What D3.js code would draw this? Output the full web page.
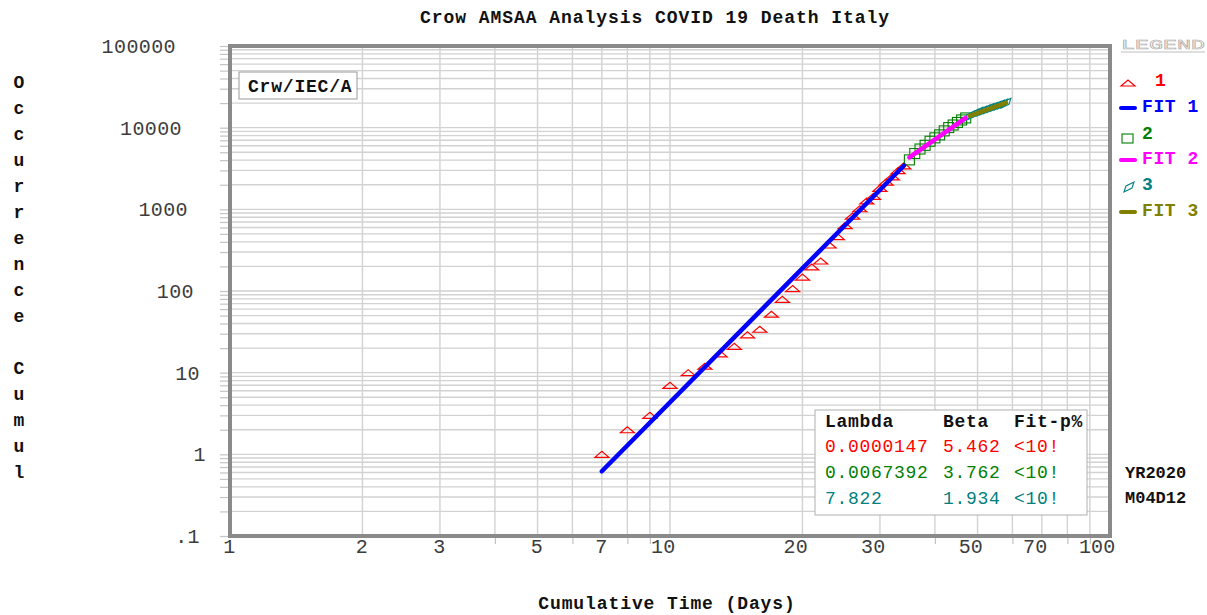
<!DOCTYPE html>
<html>
<head>
<meta charset="utf-8">
<script src="https://cdn.jsdelivr.net/npm/d3@7/dist/d3.min.js"></script>
<style>
  html, body { margin: 0; padding: 0; background: #fff; }
  svg { display: block; }
  text { font-family: "Liberation Mono", "DejaVu Sans Mono", monospace; }
</style>
</head>
<body>
<svg id="chart" width="1207" height="615"></svg>
<script>
// ---------- data ----------
const title = "Crow AMSAA Analysis COVID 19 Death Italy";
const xTitle = "Cumulative Time (Days)";
const yTitle = "Occurrence Cumul";

const xTickValues = [1, 2, 3, 5, 7, 10, 20, 30, 50, 70, 100];
const xTickLabels = ["1", "2", "3", "5", "7", "10", "20", "30", "50", "70", "100"];
const xMinorTicks = [4, 6, 8, 9, 40, 60, 80, 90];
const yTickValues = [0.1, 1, 10, 100, 1000, 10000, 100000];
const yTickLabels = [".1", "1", "10", "100", "1000", "10000", "100000"];

// series 1 (triangles): days 7..34
const s1Time = [7,8,9,10,11,12,13,14,15,16,17,18,19,20,21,22,23,24,25,26,27,28,29,30,31,32,33,34];
const s1Value = [1,2,3,7,10,12,17,21,29,34,52,79,107,148,197,233,366,463,631,827,1016,1266,1441,1809,2158,2503,2978,3405];
// series 2 (squares): days 35..47
const s2Time = [35,36,37,38,39,40,41,42,43,44,45,46,47];
const s2Value = [4032,4825,5476,6077,6820,7503,8165,9134,10023,10779,11591,12428,13155];
// series 3 (parallelograms): days 48..58
const s3Time = [48,49,50,51,52,53,54,55,56,57,58];
const s3Value = [13915,14681,15362,15887,16523,17127,17669,18279,18849,19468,19899];

// fit lines (end points)
const fit1 = [[7, 0.62], [34, 3420]];
const fit2 = [[35, 4330], [47, 13150]];
const fit3 = [[48, 13960], [58, 20130]];

const statHeader = ["Lambda", "Beta", "Fit-p%"];
const statLambda = ["0.0000147", "0.0067392", "7.822"];
const statBeta = ["5.462", "3.762", "1.934"];
const statFit = ["<10!", "<10!", "<10!"];

const legendLabels = ["1", "FIT 1", "2", "FIT 2", "3", "FIT 3"];

// ---------- styles ----------
const C_RED = "#ff0000", C_BLUE = "#0000ff", C_GREEN = "#008000",
      C_MAG = "#ff00ff", C_TEAL = "#008080", C_OLIVE = "#808000";
const statColors = [C_RED, C_GREEN, C_TEAL];

const svg = d3.select("#chart");
const L = 230, R = 1110, T = 46, B = 536;
const x = d3.scaleLog().domain([1, 100]).range([L, R]);
const y = d3.scaleLog().domain([0.1, 100000]).range([B, T]);

// ---------- grid ----------
const xGrid = [];
for (let d = 1; d < 100; d *= 10) for (let k = 1; k <= 9; k++) xGrid.push(d * k);
xGrid.push(100);
const yGrid = [];
for (let d = 0.1; d < 100000; d *= 10) for (let k = 1; k <= 9; k++) yGrid.push(+(d * k).toPrecision(3));
yGrid.push(100000);

const grid = svg.append("g");
grid.selectAll("line.vx").data(xGrid).join("line")
  .attr("x1", d => x(d)).attr("x2", d => x(d))
  .attr("y1", T).attr("y2", B)
  .attr("stroke", "#d2d2d2").attr("stroke-width", 1.4);
grid.selectAll("line.hy").data(yGrid).join("line")
  .attr("y1", d => y(d)).attr("y2", d => y(d))
  .attr("x1", L).attr("x2", R)
  .attr("stroke", "#d2d2d2").attr("stroke-width", 1.4);

// left minor ticks (outside the frame) via d3 axis
const yAxis = d3.axisLeft(y).tickValues(yGrid).tickSize(10).tickFormat("");
const gy = svg.append("g").attr("transform", `translate(${L},0)`).call(yAxis);
gy.select(".domain").remove();
gy.selectAll(".tick line").attr("stroke", "#c4c4c4").attr("stroke-width", 1.2);

// y labels
const yLab = svg.append("g");
yLab.selectAll("text").data(yTickValues).join("text")
  .attr("x", (d, i) => 176 + 6 * (6 - yTickLabels[i].length))
  .attr("y", d => y(d) + 7)
  .attr("text-anchor", "end")
  .attr("font-size", 20).attr("letter-spacing", 0.4)
  .attr("fill", "#3c3c3c")
  .text((d, i) => yTickLabels[i]);

// bottom minor ticks
const xAxisMinor = d3.axisBottom(x).tickValues(xMinorTicks).tickSize(8).tickFormat("");
const gxm = svg.append("g").attr("transform", `translate(0,${B})`).call(xAxisMinor);
gxm.select(".domain").remove();
gxm.selectAll(".tick line").attr("stroke", "#c4c4c4").attr("stroke-width", 1.2);

// bottom labels via axis
const xAxis = d3.axisBottom(x).tickValues(xTickValues).tickSize(0)
  .tickFormat((d, i) => xTickLabels[i]);
const gx = svg.append("g").attr("transform", `translate(0,${B})`).call(xAxis);
gx.select(".domain").remove();
gx.selectAll(".tick text")
  .attr("font-family", "Liberation Mono, monospace")
  .attr("font-size", 20)
  .attr("letter-spacing", 0.2)
  .attr("fill", "#3c3c3c")
  .attr("text-anchor", "end")
  .attr("dx", 5)
  .attr("y", 17)
  .attr("dy", 0);

// frame
svg.append("rect").attr("x", L).attr("y", T).attr("width", R - L).attr("height", B - T)
  .attr("fill", "none").attr("stroke", "#8a8a8a").attr("stroke-width", 4);

// ---------- Crw box ----------
svg.append("rect").attr("x", 239).attr("y", 72).attr("width", 118).attr("height", 27)
  .attr("fill", "#fff").attr("stroke", "#9a9a9a").attr("stroke-width", 1);
svg.append("text").attr("x", 248).attr("y", 92)
  .attr("font-size", 18).attr("font-weight", "bold").attr("letter-spacing", 0.8)
  .attr("fill", "#111").text("Crw/IEC/A");

// ---------- markers ----------
const triPath = "M-7,3 L0,-3 L7,3 Z";
const parPath = "M-5,5 L-3,-1 L5,-5 L3,1 Z";

const marks = svg.append("g");
marks.selectAll("path.s1").data(s1Time).join("path")
  .attr("transform", (d, i) => `translate(${x(d)},${y(s1Value[i])})`)
  .attr("d", triPath).attr("fill", "none").attr("stroke", C_RED).attr("stroke-width", 1.2);
marks.selectAll("rect.s2").data(s2Time).join("rect")
  .attr("x", d => x(d) - 5).attr("y", (d, i) => y(s2Value[i]) - 5)
  .attr("width", 10).attr("height", 10)
  .attr("fill", "none").attr("stroke", C_GREEN).attr("stroke-width", 1.1);
marks.selectAll("path.s3").data(s3Time).join("path")
  .attr("transform", (d, i) => `translate(${x(d)},${y(s3Value[i])})`)
  .attr("d", parPath).attr("fill", "none").attr("stroke", C_TEAL).attr("stroke-width", 1.1);

// ---------- fit lines ----------
const lineGen = d3.line().x(d => x(d[0])).y(d => y(d[1]));
[[fit1, C_BLUE], [fit2, C_MAG], [fit3, C_OLIVE]].forEach(([f, c]) => {
  svg.append("path").attr("d", lineGen(f)).attr("fill", "none")
    .attr("stroke", c).attr("stroke-width", 4.5).attr("stroke-linecap", "round");
});

// ---------- stats box ----------
svg.append("rect").attr("x", 815).attr("y", 410).attr("width", 272).attr("height", 105)
  .attr("fill", "#fff").attr("stroke", "#b0b0b0").attr("stroke-width", 1);
const colX = [825, 943, 1014];
svg.append("g").selectAll("text").data(statHeader).join("text")
  .attr("x", (d, i) => colX[i]).attr("y", 427)
  .attr("font-size", 18).attr("font-weight", "bold").attr("letter-spacing", 0.7)
  .attr("fill", "#111").text(d => d);
const rowsY = [452, 478, 504];
const statCols = [statLambda, statBeta, statFit];
statCols.forEach((col, ci) => {
  svg.append("g").selectAll("text").data(col).join("text")
    .attr("x", colX[ci]).attr("y", (d, i) => rowsY[i])
    .attr("font-size", 18).attr("letter-spacing", 0.7)
    .attr("fill", (d, i) => statColors[i]).text(d => d);
});

// ---------- legend ----------
svg.append("text").attr("x", 1121).attr("y", 49)
  .attr("font-family", "DejaVu Sans, sans-serif").attr("font-size", 13).attr("font-weight", 300)
  .attr("fill", "#fff").attr("stroke", "#a8a8a8").attr("stroke-width", 0.55)
  .attr("textLength", 84).attr("lengthAdjust", "spacingAndGlyphs")
  .text("LEGEND");
svg.append("line").attr("x1", 1121).attr("x2", 1205).attr("y1", 52).attr("y2", 52)
  .attr("stroke", "#bdbdbd").attr("stroke-width", 1);

const legY = [80, 106, 133, 158, 184, 210];
const legColors = [C_RED, C_BLUE, C_GREEN, C_MAG, C_TEAL, C_OLIVE];
const legTextX = [1155, 1142, 1142, 1142, 1142, 1142];
const lg = svg.append("g");
lg.append("path").attr("transform", `translate(1128,${legY[0] + 3})`).attr("d", triPath)
  .attr("fill", "none").attr("stroke", C_RED).attr("stroke-width", 1.2);
lg.append("rect").attr("x", 1122).attr("y", legY[2] + 1).attr("width", 11).attr("height", 9)
  .attr("fill", "none").attr("stroke", C_GREEN).attr("stroke-width", 1.1);
lg.append("path").attr("transform", `translate(1129,${legY[4] + 3})`).attr("d", parPath)
  .attr("fill", "none").attr("stroke", C_TEAL).attr("stroke-width", 1.1);
[1, 3, 5].forEach(i => {
  lg.append("line").attr("x1", 1121).attr("x2", 1135).attr("y1", legY[i] + 2).attr("y2", legY[i] + 2)
    .attr("stroke", legColors[i]).attr("stroke-width", 4).attr("stroke-linecap", "round");
});
lg.selectAll("text").data(legendLabels).join("text")
  .attr("x", (d, i) => legTextX[i]).attr("y", (d, i) => legY[i] + 6)
  .attr("font-size", 18).attr("font-weight", "bold").attr("letter-spacing", 0.6)
  .attr("fill", (d, i) => legColors[i]).text(d => d);

// date stamp
svg.append("text").attr("x", 1125).attr("y", 478).attr("font-size", 17).attr("font-weight", "bold")
  .attr("fill", "#111").text("YR2020");
svg.append("text").attr("x", 1125).attr("y", 503).attr("font-size", 17).attr("font-weight", "bold")
  .attr("fill", "#111").text("M04D12");

// ---------- titles ----------
svg.append("text").attr("x", 655).attr("y", 23).attr("text-anchor", "middle")
  .attr("font-size", 18).attr("font-weight", "bold").attr("letter-spacing", 0.95)
  .attr("fill", "#111").text(title);
svg.append("text").attr("x", 667).attr("y", 609).attr("text-anchor", "middle")
  .attr("font-size", 18).attr("font-weight", "bold").attr("letter-spacing", 0.9)
  .attr("fill", "#111").text(xTitle);

const yChars = yTitle.split("");
svg.append("g").selectAll("text").data(yChars).join("text")
  .attr("x", 19).attr("y", (d, i) => 88 + 26 * i)
  .attr("text-anchor", "middle")
  .attr("font-size", 18).attr("font-weight", "bold")
  .attr("fill", "#111").text(d => d);
</script>
</body>
</html>
